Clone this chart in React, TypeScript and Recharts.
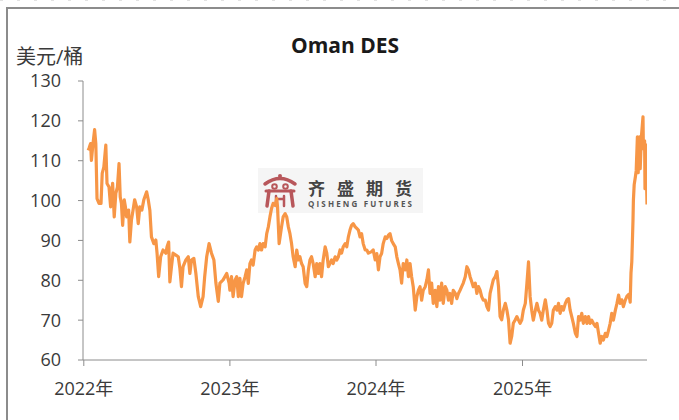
import React from "react";
import { LineChart, Line, XAxis, YAxis } from "recharts";

// days since 2022-01-01
const days2022 = [11, 13, 17, 19, 23, 27, 30, 33, 38, 43, 46, 50, 55, 58, 63, 67, 72, 76, 80, 84, 88, 91, 94, 97, 101, 104, 107, 112, 115, 119, 123, 127, 132, 136, 140, 145, 150, 157, 161, 165, 169, 175, 180, 183, 187, 192, 198, 205, 208, 212, 215, 219, 223, 230, 236, 240, 244, 248, 255, 261, 265, 269, 275, 280, 286, 292, 298, 302, 307, 313, 319, 325, 330, 336, 340, 348, 357, 363];
const price2022 = [112.6, 113.1, 114.3, 110.1, 114.3, 117.8, 114.3, 100.5, 99.3, 99.3, 106.8, 108.4, 113.9, 104.3, 103.4, 98.4, 104.3, 95.9, 101.8, 103.4, 109.3, 100.9, 99.3, 93.8, 100.2, 98.4, 95.9, 97.6, 89.6, 95.1, 97.6, 100.2, 98.4, 94.2, 98.4, 97.6, 100.2, 102.2, 100.2, 97.6, 90.9, 89.2, 90.1, 86.8, 80.9, 85.9, 87.6, 86.8, 88.4, 89.6, 79.6, 83.4, 86.8, 86.3, 85.9, 83.0, 78.4, 83.4, 85.1, 85.9, 81.7, 85.1, 85.5, 81.7, 75.9, 73.4, 75.9, 80.9, 85.9, 89.2, 86.8, 85.1, 79.3, 74.7, 79.3, 80.1, 81.7, 79.3];

const days2023 = [365, 369, 373, 378, 382, 386, 390, 394, 398, 403, 407, 411, 415, 419, 423, 428, 432, 436, 440, 444, 448, 453, 457, 461, 465, 469, 473, 478, 482, 484, 488, 494, 498, 503, 507, 511, 515, 519, 523, 528, 532, 536, 540, 544, 548, 553, 557, 561, 565, 569, 573, 578, 582, 586, 590, 594, 598, 603, 607, 611, 615, 619, 623, 628, 632, 636, 640, 644, 648, 653, 657, 661, 665, 669, 673, 678, 682, 686, 690, 694, 698, 703, 707, 711, 719, 723, 728];
const price2023 = [77.5, 80.9, 75.9, 80.1, 80.9, 75.9, 80.5, 75.9, 79.2, 80.9, 82.6, 79.2, 84.2, 85.1, 83.8, 87.6, 88.4, 87.6, 89.2, 87.6, 89.2, 88.4, 91.7, 93.4, 95.9, 98.0, 99.3, 98.8, 100.5, 98.4, 89.2, 93.4, 95.9, 96.7, 95.9, 93.4, 91.7, 89.2, 85.9, 83.4, 87.6, 85.1, 85.9, 84.2, 83.4, 79.2, 78.4, 82.6, 85.1, 85.9, 84.2, 80.9, 84.2, 81.7, 84.2, 80.9, 85.1, 88.4, 86.8, 83.4, 84.2, 85.1, 84.2, 85.9, 85.1, 85.9, 87.6, 86.8, 88.4, 89.2, 88.4, 90.9, 92.6, 93.8, 94.2, 93.4, 93.0, 92.6, 90.9, 91.7, 89.2, 87.6, 87.6, 86.8, 87.2, 87.6, 85.1];

const days2024 = [732, 736, 740, 744, 748, 753, 757, 761, 765, 769, 773, 778, 782, 786, 790, 794, 798, 803, 807, 811, 815, 819, 823, 828, 832, 836, 840, 844, 848, 853, 857, 861, 865, 869, 873, 878, 882, 886, 890, 894, 898, 903, 907, 911, 915, 919, 923, 928, 932, 936, 940, 944, 948, 953, 957, 961, 965, 969, 973, 978, 982, 986, 990, 994, 998, 1003, 1007, 1011, 1015, 1019, 1023, 1028, 1032, 1036, 1040, 1044, 1048, 1053, 1057, 1061, 1065, 1069, 1073, 1078, 1082, 1086, 1090, 1094];
const price2024 = [86.7, 82.6, 85.9, 86.7, 89.2, 90.9, 90.5, 91.3, 91.7, 90.0, 89.2, 88.4, 85.9, 84.2, 82.6, 79.3, 84.2, 82.6, 85.1, 80.9, 84.2, 80.9, 78.4, 72.5, 75.9, 77.5, 78.4, 75.0, 77.5, 78.4, 80.1, 82.6, 76.7, 79.3, 74.2, 77.5, 73.4, 78.4, 75.0, 79.3, 74.2, 78.4, 77.5, 75.0, 76.7, 74.2, 77.5, 76.7, 75.4, 76.7, 77.5, 78.4, 79.3, 80.9, 83.4, 82.6, 80.9, 79.7, 78.4, 79.3, 76.7, 78.4, 77.5, 75.9, 75.0, 75.0, 73.4, 72.5, 76.7, 78.4, 80.1, 80.9, 82.2, 78.4, 70.9, 70.1, 72.5, 74.2, 72.5, 70.1, 64.2, 65.9, 69.2, 70.1, 70.9, 70.0, 69.2, 70.0];

const days2025 = [1098, 1103, 1107, 1111, 1115, 1119, 1123, 1128, 1132, 1136, 1140, 1144, 1148, 1153, 1157, 1161, 1165, 1169, 1173, 1178, 1182, 1186, 1190, 1194, 1198, 1203, 1207, 1211, 1215, 1219, 1223, 1228, 1232, 1236, 1240, 1244, 1248, 1253, 1257, 1261, 1265, 1269, 1273, 1278, 1282, 1286, 1290, 1294, 1298, 1303, 1307, 1311, 1315, 1319, 1323, 1328, 1332, 1336, 1340, 1344, 1348, 1353, 1357, 1362, 1365, 1367, 1369, 1372, 1373, 1375, 1378, 1380, 1383, 1385, 1388, 1390, 1393, 1397, 1398, 1401, 1402, 1404, 1407];
const price2025 = [72.5, 74.2, 79.2, 84.6, 75.9, 72.5, 70.0, 72.5, 74.2, 72.5, 71.7, 70.0, 72.5, 75.1, 72.5, 69.2, 68.4, 69.2, 72.5, 73.4, 72.5, 74.2, 71.7, 73.4, 72.5, 74.2, 75.1, 75.4, 72.5, 70.9, 69.2, 66.7, 65.9, 70.9, 70.0, 71.7, 69.2, 70.9, 69.2, 70.9, 69.2, 70.0, 69.2, 68.4, 69.2, 66.7, 64.2, 65.9, 65.0, 66.7, 65.9, 67.5, 69.2, 71.7, 70.0, 72.5, 74.2, 76.3, 74.2, 75.1, 73.4, 75.1, 76.0, 76.5, 74.5, 81.8, 84.6, 95.0, 100.0, 104.0, 106.0, 107.5, 116.0, 107.0, 116.0, 108.0, 116.0, 121.0, 113.0, 115.0, 103.0, 114.0, 99.0];

const yearTicks = [0, 365, 730, 1096];
const yearLabels = ["2022年", "2023年", "2024年", "2025年"];
const priceTicks = [60, 70, 80, 90, 100, 110, 120, 130];

const allDays = [...days2022, ...days2023, ...days2024, ...days2025];
const allPrices = [...price2022, ...price2023, ...price2024, ...price2025];
const data = allDays.map((day, i) => ({ day, price: allPrices[i] }));

const font = "'Open Sans', 'Noto Sans CJK SC', sans-serif";
const axisColor = "#8c8c8c";
const textColor = "#3a3a3a";
const logoRed = "#b8575b";

const yearLabel = (d: number) => yearLabels[yearTicks.indexOf(d)] ?? "";

function Backdrop() {
  return (
    <svg width={679} height={420} style={{ position: "absolute", left: 0, top: 0 }}>
      <line x1={0} y1={0.5} x2={679} y2={0.5} stroke="#e2e2e2" strokeDasharray="3 14" />
      <line x1={6} y1={8} x2={679} y2={8} stroke={axisColor} strokeWidth={2} />
      <line x1={7} y1={7} x2={7} y2={420} stroke={axisColor} strokeWidth={2} />
      <text x={345} y={52.5} textAnchor="middle" fontFamily={font} fontWeight={700} fontSize={21} fill="#1a1a1a">
        Oman DES
      </text>
      <text x={16} y={64} fontFamily={font} fontSize={20} fill={textColor}>
        美元/桶
      </text>
      <g>
        <rect x={258} y={168} width={165} height={45} fill="#f5f5f5" />
        <g transform="translate(263,173)" fill="none" stroke={logoRed} strokeLinecap="round">
          <circle cx={17} cy={3} r={2} fill={logoRed} stroke="none" />
          <path d="M2 11 Q17 0 32 11" strokeWidth={3.5} />
          <circle cx={11.5} cy={13.5} r={2.3} strokeWidth={2} />
          <circle cx={22.5} cy={13.5} r={2.3} strokeWidth={2} />
          <path d="M3 18 L31 18" strokeWidth={3} />
          <path d="M6 18 L4 33 M28 18 L30 33" strokeWidth={3.5} />
          <path d="M13 23 L13 33 M21 23 L21 33 M13 26 L21 26" strokeWidth={2.5} />
        </g>
        <text x={308} y={194.5} fontFamily="'Noto Sans CJK SC', sans-serif" fontWeight={700} fontSize={17} fill="#444" textLength={104} lengthAdjust="spacing">
          齐盛期货
        </text>
        <text x={308} y={207} fontFamily={font} fontWeight={700} fontSize={8} fill="#555" textLength={104} lengthAdjust="spacing">
          QISHENG FUTURES
        </text>
      </g>
    </svg>
  );
}

export default function App() {
  return (
    <div style={{ position: "absolute", left: 0, top: 0, width: 679, height: 420, background: "#fff" }}>
      <Backdrop />
      <div style={{ position: "absolute", left: 0, top: 0 }}>
        <LineChart width={679} height={420} data={data} margin={{ top: 81, right: 32, bottom: 20, left: 23 }}>
          <XAxis
            dataKey="day"
            type="number"
            domain={[-2, 1407]}
            ticks={yearTicks}
            tickFormatter={yearLabel}
            allowDataOverflow
            height={40}
            tickSize={6}
            tickMargin={16}
            stroke={axisColor}
            tick={{ fill: textColor, fontSize: 18, fontFamily: font }}
            tickLine={{ stroke: axisColor }}
            axisLine={{ stroke: axisColor }}
          />
          <YAxis
            type="number"
            domain={[60, 130]}
            ticks={priceTicks}
            width={60}
            tickSize={5}
            tickMargin={17}
            stroke={axisColor}
            tick={{ fill: textColor, fontSize: 18, fontFamily: font }}
            tickLine={{ stroke: axisColor }}
            axisLine={{ stroke: axisColor }}
          />
          <Line
            type="linear"
            dataKey="price"
            stroke="#f79646"
            strokeWidth={3.2}
            strokeLinejoin="round"
            dot={false}
            activeDot={false}
            isAnimationActive={false}
          />
        </LineChart>
      </div>
    </div>
  );
}
